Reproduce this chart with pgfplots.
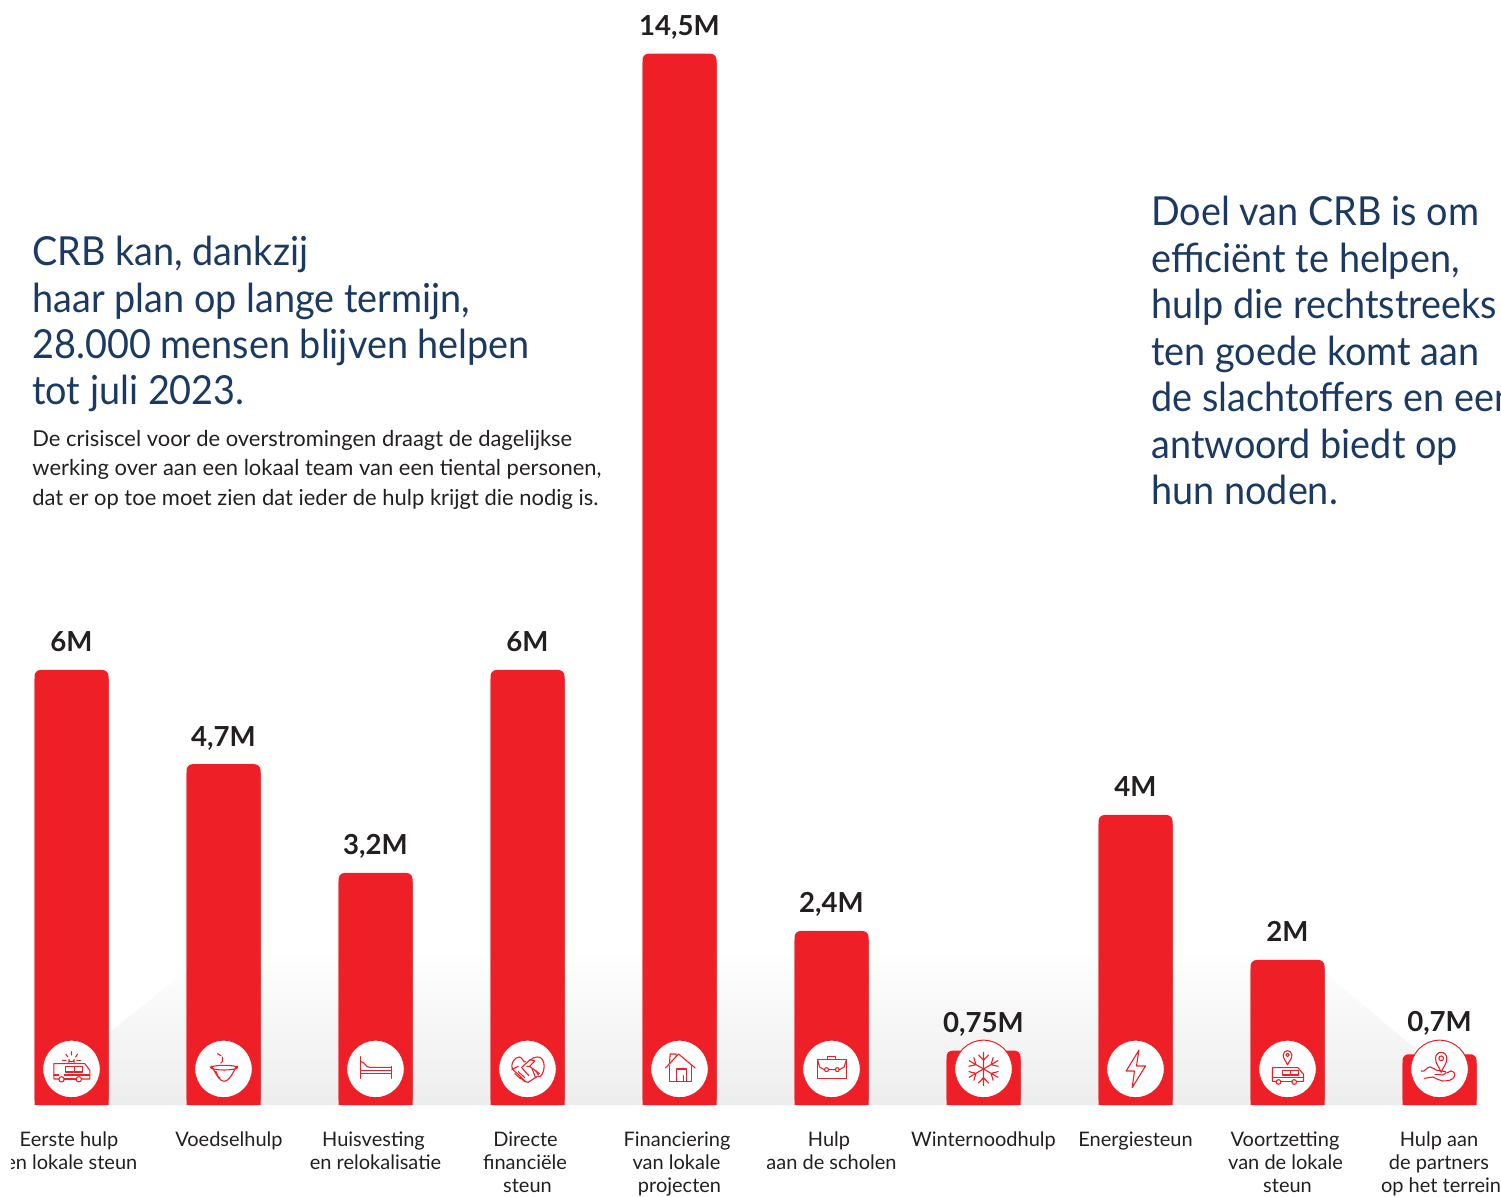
\documentclass[border=0pt]{standalone}
\usepackage{pgfplots}
\usepackage{pgfplotstable}
\usepackage{fontspec}
\pgfplotsset{compat=1.18}
\setmainfont{Lato}
\newfontfamily\bigfont[FakeStretch=0.945]{Lato}
\definecolor{crbred}{HTML}{EE1F26}
\definecolor{navy}{HTML}{1B3A63}
\definecolor{ink}{HTML}{231F20}
\newcommand{\lbl}[2]{\makebox[0pt]{\hspace{#1pt}#2}}
\pgfplotstableread{
x v label
0 6 6M
1 4.7 4,7M
2 3.2 3,2M
3 6 6M
4 14.5 14,5M
5 2.4 2,4M
6 0.75 0,75M
7 4 4M
8 2 2M
9 0.7 0,7M
}\bars
\pgfplotstableread{
x y icon
0 0.497 A
1 0.497 B
2 0.497 C
3 0.497 D
4 0.497 E
5 0.497 F
6 0.497 G
7 0.497 H
8 0.497 I
9 0.497 J
}\icons
\newcommand{\icn}[1]{\begin{tikzpicture}[x=0.1667pt,y=-0.1667pt,color=crbred,line width=0.55pt,line join=round,line cap=round]
\pgfresetboundingbox\path[draw=none,fill=none,use as bounding box] (-60,-60) rectangle (60,60);#1\end{tikzpicture}}
\newcommand{\icA}{\icn{
\draw (-38,30)--(-53,30)--(-53,-16)--(40,-16)--(55,4)--(55,30)--(30,30);
\draw (-22,30)--(14,30);\draw (-53,18)--(-38,18) (-22,18)--(55,18);
\draw (-30,31) circle[radius=8] (22,31) circle[radius=8];
\draw (-17,-8) rectangle (33,9) (8,-8)--(8,9);
\draw (-8,-19)--(-8,-28) to[out=-90,in=-90,looseness=1.4] (8,-28)--(8,-19);
\draw (0,-52)--(0,-42) (-17,-44)--(-11,-36) (18,-44)--(12,-36) (-27,-26)--(-16,-26) (16,-26)--(27,-26);}}
\newcommand{\icB}{\icn{
\draw (2,-4) ellipse[x radius=40,y radius=7];
\draw (-38,-4) to[out=90,in=180] (2,37) to[out=0,in=90] (42,-4);
\draw (-24,8) to[out=80,in=190] (-10,27);
\draw (-18,-46)--(-8,-40) (-4,-36) to[out=80,in=-60] (-4,-26) (-2,-24)--(-8,-18);}}
\newcommand{\icC}{\icn{
\draw (-44,-37)--(-44,28) (48,-8)--(48,28);
\draw (-44,-22) to[out=0,in=180] (-18,-5)--(48,-5);
\draw (-44,5)--(48,5) (-44,14)--(48,14);}}
\newcommand{\icD}{\icn{
\draw (-6,-22) to[out=-120,in=10] (-25,-36) to[out=190,in=90] (-47,-8) to[out=-90,in=140] (-30,14)--(-6,38)--(2,40)--(30,22) to[out=-40,in=-90] (50,-8) to[out=90,in=10] (30,-36) to[out=190,in=60] (8,-26);
\draw (-47,2)--(-28,-8) (-18,-4)--(8,-28)--(22,-24)--(6,-8)--(-2,-8) (6,-8)--(36,14);
\draw (-38,14)--(-20,30) (-28,8)--(-8,26) (-16,-2)--(4,20) (14,0)--(24,26) (24,4)--(33,18) (-22,26)--(-8,38);}}
\newcommand{\icE}{\icn{
\draw (-42,-3)--(-3,-45)--(47,-3);
\draw (-30,-18)--(-28,-45)--(-10,-45)--(-10,-38);
\draw (-30,-10)--(-30,37)--(35,37)--(35,-10);
\draw (-10,37)--(-10,0)--(20,0)--(20,37) (12,20)--(12,37);}}
\newcommand{\icF}{\icn{
\draw (-42,-29)--(45,-29)--(45,28)--(-42,28)--cycle;
\draw (-42,-29)--(-36,-6)--(-22,2) (-8,2)--(10,2) (24,2)--(38,-6)--(45,-29);
\draw (-15,2) circle[radius=6] (17,2) circle[radius=6];
\draw (-12,-29)--(-12,-38)--(12,-38)--(12,-29);}}
\newcommand{\icG}{\icn{
\foreach \a in {0,60,120,180,240,300}{
\begin{scope}[rotate=\a]
\draw (0,0)--(0,-50) (-15,-42)--(0,-26)--(15,-42);
\end{scope}}}}
\newcommand{\icH}{\icn{
\draw (10,-56)--(-28,6)--(-3,6)--(-10,56)--(30,-9)--(3,-9)--cycle;}}
\newcommand{\icI}{\icn{
\draw (-35,37)--(-45,37)--(-45,-4)--(31,-4)--(48,16)--(48,37)--(28,37);
\draw (-19,37)--(12,37) (-45,26)--(48,26);
\draw (-27,39) circle[radius=7] (20,39) circle[radius=7];
\draw (-14,4) rectangle (33,18) (10,4)--(10,18);
\draw (0,-12) to[out=110,in=-90] (-13,-42) to[out=90,in=180] (0,-55) to[out=0,in=90] (13,-42) to[out=-90,in=70] (0,-12);
\draw (0,-42) circle[radius=5];}}
\newcommand{\icJ}{\icn{
\draw (5,10) to[out=110,in=-90] (-12,-32) to[out=90,in=180] (5,-50) to[out=0,in=90] (22,-32) to[out=-90,in=70] (5,10);
\draw (5,-32) circle[radius=7];
\draw (-55,6) to[out=-30,in=180] (-28,-6) to[out=0,in=170] (-8,4)--(18,8) to[out=-10,in=10] (10,18)--(-14,16);
\draw (-45,28) to[out=-10,in=170] (-20,24) to[out=-10,in=180] (8,36) to[out=0,in=-110] (46,20) to[out=70,in=10] (34,6)--(22,12);}}
\newcommand{\bigtxt}[3]{\node[anchor=base west,font=\bigfont\fontsize{20}{24}\selectfont,text=navy,inner sep=0pt] at (#1/2*1pt,{(1105-#2)/2*1pt}) {#3};}
\newcommand{\smalltxt}[3]{\node[anchor=base west,font=\fontsize{10.97}{13}\selectfont,text=ink,inner sep=0pt] at (#1/2*1pt,{(1105-#2)/2*1pt}) {#3};}
\begin{document}
\begin{tikzpicture}
\path[use as bounding box] (0,-45.5pt) rectangle (750.5pt,552.5pt);
\begin{axis}[at={(0,0)},anchor=south west,scale only axis,width=750.5pt,height=552.5pt,
  xmin=-0.4704,xmax=9.4046,ymin=0,ymax=15.241,
  axis line style={draw=none},ytick=\empty,
  xtick={0,...,9},tick style={draw=none},
  xticklabels={
   {\lbl{-2.5}{Eerste hulp}\\\lbl{-5.5}{een lokale steun}},
   {\lbl{5.5}{Voedselhulp}},
   {\lbl{-2}{Huisvesting}\\\lbl{0}{en relokalisatie}},
   {\lbl{-2}{Directe}\\\lbl{-2.5}{financiële}\\\lbl{0}{steun}},
   {\lbl{-2.5}{Financiering}\\\lbl{-3}{van lokale}\\\lbl{0}{projecten}},
   {\lbl{-2.5}{Hulp}\\\lbl{0}{aan de scholen}},
   {\lbl{0}{Winternoodhulp}},
   {\lbl{0}{Energiesteun}},
   {\lbl{-2.5}{Voortzetting}\\\lbl{-2}{van de lokale}\\\lbl{0}{steun}},
   {\lbl{-0.5}{Hulp aan}\\\lbl{-0.5}{de partners}\\\lbl{1.5}{op het terrein}}},
  xticklabel style={align=center,font=\fontsize{10}{11.5}\selectfont,text=ink,anchor=north,yshift=-10pt},
  clip=true]
\addplot[draw=none,top color=white,bottom color=black!7] coordinates {(0,0)(0,0.58)(0.924,2.138)(8.07,2.138)(9.2,0.14)(9.2,0)} -- cycle;
\addplot[ybar,bar width=37pt,bar shift=0pt,fill=crbred,draw=none,rounded corners=3pt,
  nodes near coords,point meta=explicit symbolic,
  nodes near coords style={anchor=south,font=\bfseries\fontsize{13.8}{16}\selectfont,text=ink,text depth=0pt,yshift=5.5pt},
  coordinate style/.condition={x==9}{yshift=2.5pt}]
  table[x=x,y=v,meta=label]{\bars};
\addplot[ybar,bar width=37pt,bar shift=0pt,fill=crbred,draw=none,y filter/.code={\pgfmathparse{\pgfmathresult-0.12}}]
  table[x=x,y=v]{\bars};
\addplot[only marks,mark=*,mark size=14.4pt,mark options={fill=white,draw=crbred,line width=0.5pt},
  nodes near coords={\csname ic\pgfplotspointmeta\endcsname},point meta=explicit symbolic,
  nodes near coords style={anchor=center,inner sep=0pt}]
  table[x=x,y=y,meta=icon]{\icons};
\end{axis}
\fill[white] (0,-36pt) rectangle (5.5pt,-20pt);
\bigtxt{32}{265.7}{CRB kan, dankzij}
\bigtxt{32}{312.2}{haar plan op lange termijn,}
\bigtxt{32}{358.7}{28.000 mensen blijven helpen}
\bigtxt{32}{404.7}{tot juli 2023.}
\smalltxt{32}{447}{De crisiscel voor de overstromingen draagt de dagelijkse}
\smalltxt{32}{476}{werking over aan een lokaal team van een tiental personen,}
\smalltxt{32}{506}{dat er op toe moet zien dat ieder de hulp krijgt die nodig is.}
\bigtxt{1151}{225.7}{Doel van CRB is om}
\bigtxt{1151}{272.7}{efficiënt te helpen,}
\bigtxt{1151}{318.7}{hulp die rechtstreeks}
\bigtxt{1151}{365.7}{ten goede komt aan}
\bigtxt{1151}{411.7}{de slachtoffers en een}
\bigtxt{1151}{458.7}{antwoord biedt op}
\bigtxt{1151}{504.7}{hun noden.}
\end{tikzpicture}
\end{document}
